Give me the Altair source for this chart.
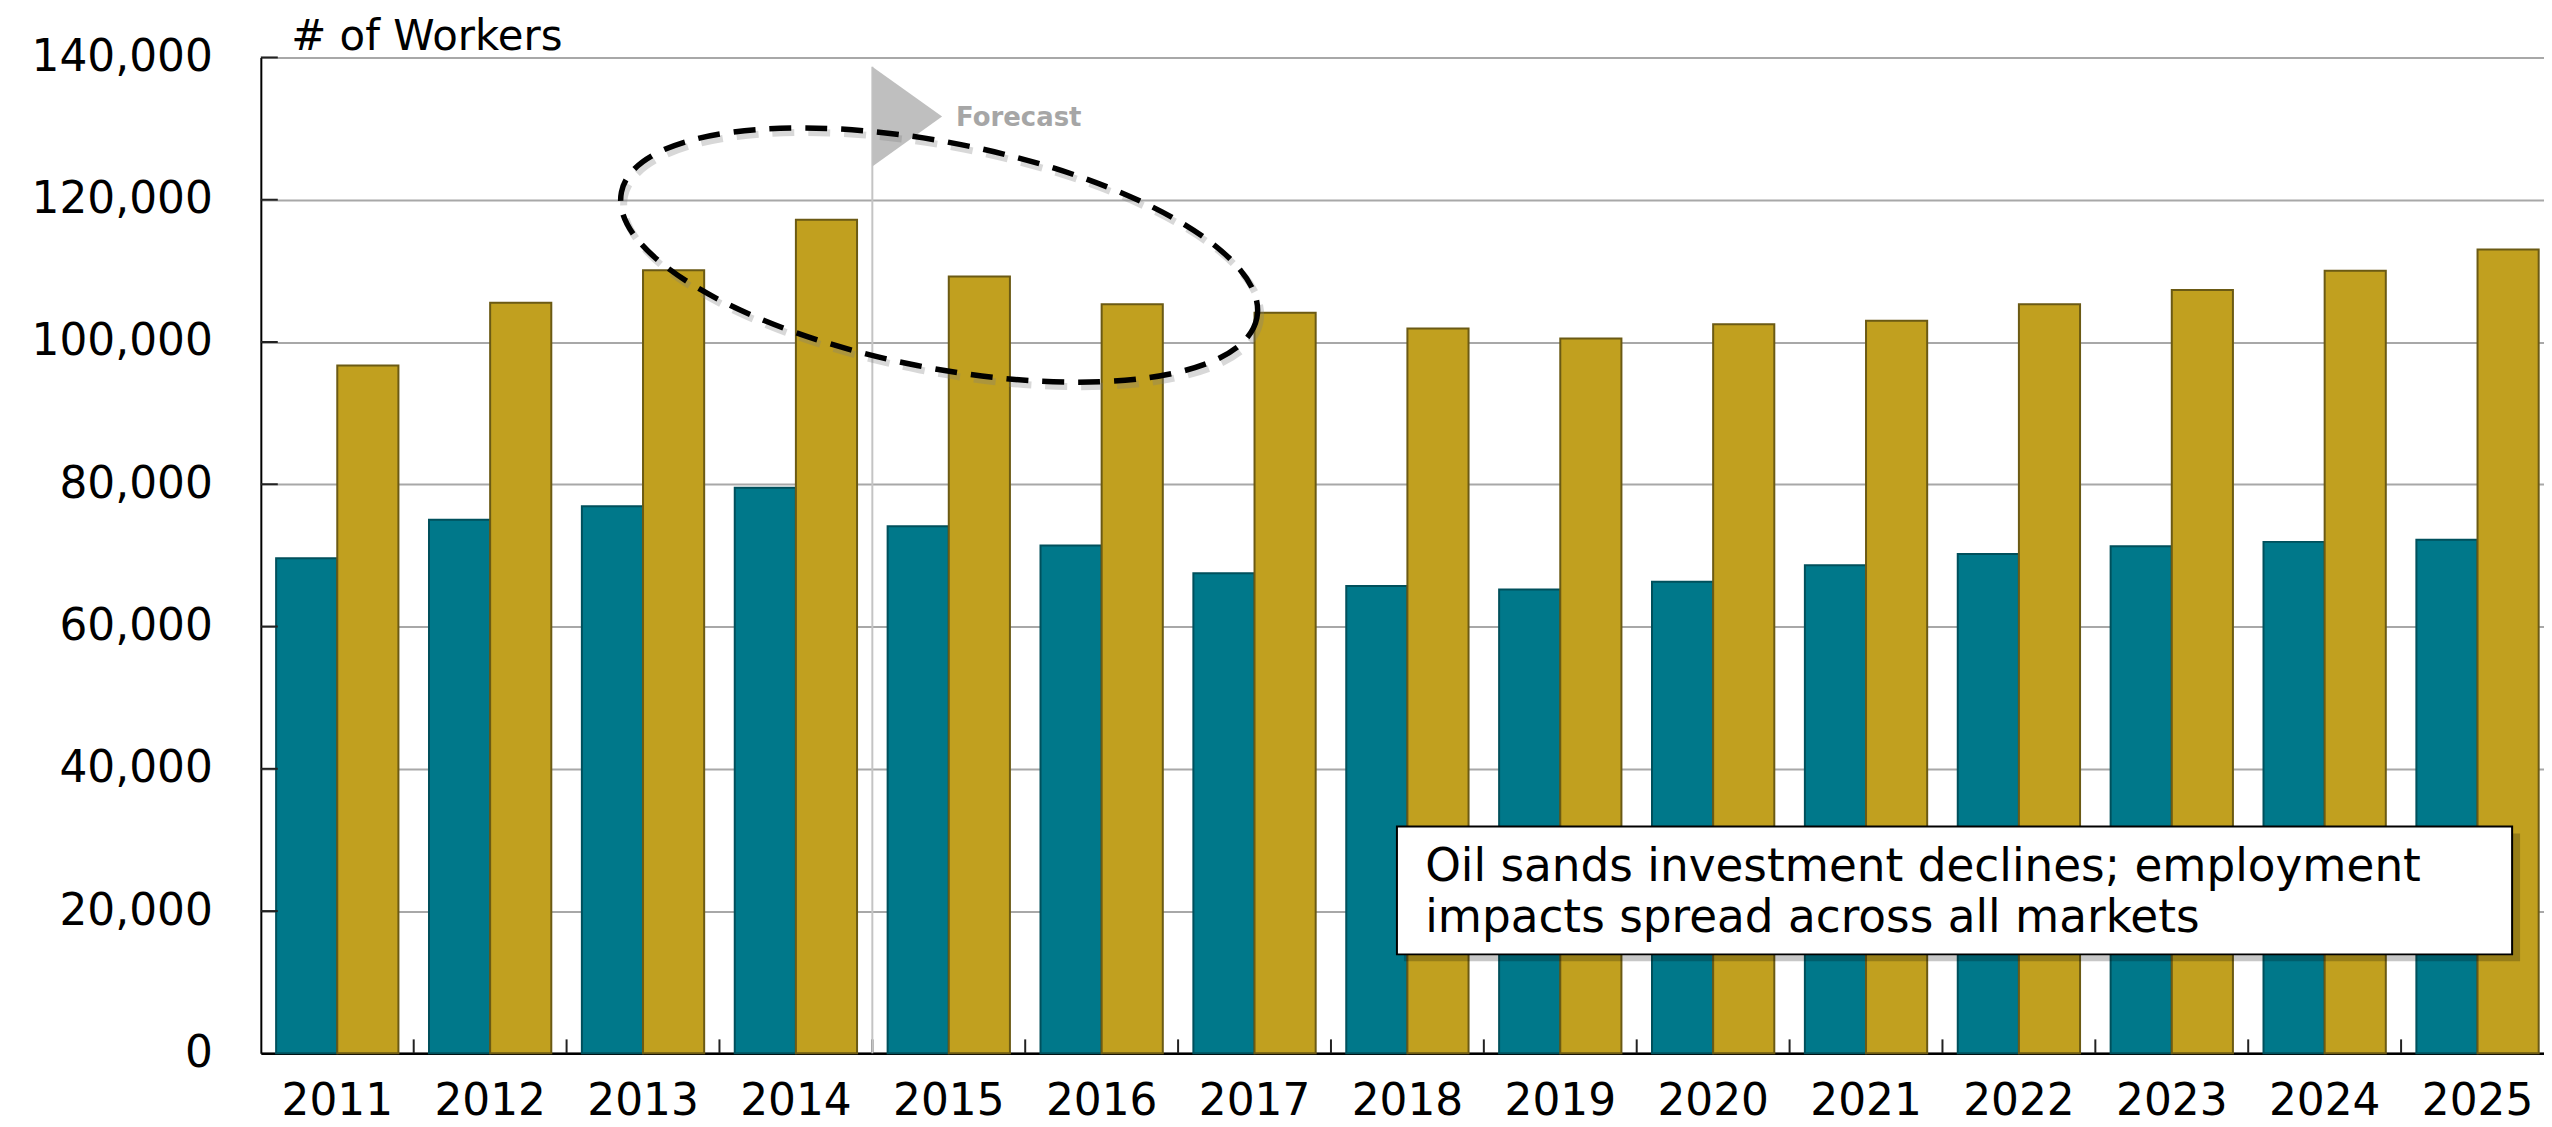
import math
import altair as alt
import pandas as pd

# ---------------- data ----------------
years = ["2011", "2012", "2013", "2014", "2015", "2016", "2017", "2018",
         "2019", "2020", "2021", "2022", "2023", "2024", "2025"]
series_names = ["Construction", "Construction + Maintenance"]
teal_values = [69600, 75000, 76900, 79500, 74100, 71400, 67500, 65700,
               65200, 66300, 68600, 70200, 71300, 71900, 72200]
gold_values = [96700, 105500, 110100, 117200, 109200, 105300, 104100, 101900,
               100500, 102500, 103000, 105300, 107300, 110000, 113000]
y_tick_values = [0, 20000, 40000, 60000, 80000, 100000, 120000, 140000]
y_title = "# of Workers"
forecast_start = ["2015"]
forecast_label = ["Forecast"]
ellipse_year = ["2015"]
note_text = ["Oil sands investment declines; employment\nimpacts spread across all markets"]

# ---------------- style ----------------
FONT = "DejaVu Sans"
W, H = 2301, 999.3
TEAL, TEAL_EDGE = "#00788a", "#00505c"
GOLD, GOLD_EDGE = "#c1a01f", "#6b5a14"
GRID = "#a8a8a8"


def ellipse_path(a, b, theta_deg, ox=0.0, oy=0.0, unit=100.0):
    t = math.radians(theta_deg)
    ax, ay = a * math.cos(t) / unit, a * math.sin(t) / unit
    A, B = a / unit, b / unit
    return (f"M{ox + ax:.4f},{oy + ay:.4f}"
            f"A{A:.4f},{B:.4f},{theta_deg},1,1,{ox - ax:.4f},{oy - ay:.4f}"
            f"A{A:.4f},{B:.4f},{theta_deg},1,1,{ox + ax:.4f},{oy + ay:.4f}Z")


bars_df = pd.DataFrame({
    "year": years * 2,
    "series": [series_names[0]] * len(years) + [series_names[1]] * len(years),
    "workers": teal_values + gold_values,
})

x_scale = alt.Scale(domain=years, paddingInner=0, paddingOuter=0)
y_scale = alt.Scale(domain=[0, 140000], nice=False, zero=True)

bars = alt.Chart(bars_df).mark_bar(strokeWidth=2).encode(
    x=alt.X("year:N", scale=x_scale, title=None,
            axis=alt.Axis(labelAngle=0, labelPadding=26.5, grid=False,
                          domainWidth=2.5)),
    xOffset=alt.XOffset("series:N",
                        scale=alt.Scale(domain=series_names, paddingInner=0,
                                        paddingOuter=0.25)),
    y=alt.Y("workers:Q", scale=y_scale,
            axis=alt.Axis(values=y_tick_values, format=",.0f", title=y_title,
                          titleAngle=0, titleX=30, titleY=-8.4,
                          titleAlign="left", titleBaseline="alphabetic",
                          titleFontSize=42,
                          labelPadding=48.7, labelLimit=400, grid=True,
                          domainWidth=2)),
    fill=alt.Fill("series:N", scale=alt.Scale(domain=series_names,
                                              range=[TEAL, GOLD]), legend=None),
    stroke=alt.Stroke("series:N", scale=alt.Scale(domain=series_names,
                                                  range=[TEAL_EDGE, GOLD_EDGE]),
                      legend=None),
)

# inward y ticks
yticks = alt.Chart(pd.DataFrame({"value": y_tick_values[1:]})).mark_rule(
    stroke="#222222", strokeWidth=2).encode(
    y=alt.Y("value:Q", scale=y_scale),
    x=alt.value(0), x2=alt.value(17))

# inward x ticks between categories
xticks = alt.Chart(pd.DataFrame({"year": years[1:]})).mark_rule(
    stroke="#222222", strokeWidth=2).encode(
    x=alt.X("year:N", scale=x_scale, bandPosition=0),
    y=alt.value(H - 14), y2=alt.value(H))

fc_df = pd.DataFrame({"year": forecast_start, "label": forecast_label})
fc_x = alt.X("year:N", scale=x_scale, bandPosition=0)
fc_line = alt.Chart(fc_df).mark_rule(stroke="#c4c4c4", strokeWidth=2).encode(
    x=fc_x, y=alt.value(9.3), y2=alt.value(H))
fc_tri = alt.Chart(fc_df).mark_point(
    shape="M0,-1L1.4,0L0,1Z", size=10000, filled=True, color="#bfbfbf",
    opacity=1, strokeWidth=0).encode(x=fc_x, y=alt.value(59.3))
fc_text = alt.Chart(fc_df).mark_text(
    font=FONT, fontSize=26, fontWeight="bold", color="#a6a6a6", align="left",
    baseline="alphabetic", dx=84).encode(x=fc_x, y=alt.value(68.3),
                                         text="label:N")

ell_df = pd.DataFrame({"year": ellipse_year})
ell_x = alt.X("year:N", scale=x_scale, bandPosition=0.437)
ell_shadow = alt.Chart(ell_df).mark_point(
    shape=ellipse_path(325, 113, 11.2, ox=0.03, oy=0.045), size=40000,
    filled=False, color="#7f7f7f", stroke="#7f7f7f", strokeWidth=7,
    strokeDash=[22, 14], opacity=0.3).encode(x=ell_x, y=alt.value(198.3))
ell = alt.Chart(ell_df).mark_point(
    shape=ellipse_path(325, 113, 11.2), size=40000, filled=False,
    color="black", stroke="black", strokeWidth=5.5, strokeDash=[22, 14],
    opacity=1).encode(x=ell_x, y=alt.value(198.3))

note_df = pd.DataFrame({"note": note_text})
box_shadow = alt.Chart(note_df).mark_rect(fill="#000000", opacity=0.22).encode(
    x=alt.value(1147), x2=alt.value(2267), y=alt.value(778.6), y2=alt.value(907))
box = alt.Chart(note_df).mark_rect(fill="white", stroke="black",
                                   strokeWidth=2).encode(
    x=alt.value(1140), x2=alt.value(2259), y=alt.value(771.6), y2=alt.value(900))
note = alt.Chart(note_df).mark_text(
    font=FONT, fontSize=45.5, align="left", baseline="alphabetic",
    lineBreak="\n", lineHeight=51, color="black").encode(
    x=alt.value(1168.3), y=alt.value(826.3), text="note:N")

chart = alt.layer(
    bars, yticks, xticks, fc_line, fc_tri, fc_text, ell_shadow, ell,
    box_shadow, box, note
).properties(
    width=W, height=H,
    autosize=alt.AutoSizeParams(type="none"),
    padding={"left": 253.7, "top": 47.7, "right": -10, "bottom": 72},
    background="white",
).configure_view(
    stroke=None
).configure_axis(
    labelFont=FONT, labelFontSize=44, labelColor="black",
    titleFont=FONT, titleFontSize=45, titleFontWeight="normal",
    titleColor="black", ticks=False, tickSize=0, domainColor="black",
    gridColor=GRID, gridWidth=2, gridOpacity=1, labelOverlap=False,
)

chart.save("out.html", embed_options={"renderer": "svg", "actions": False})
